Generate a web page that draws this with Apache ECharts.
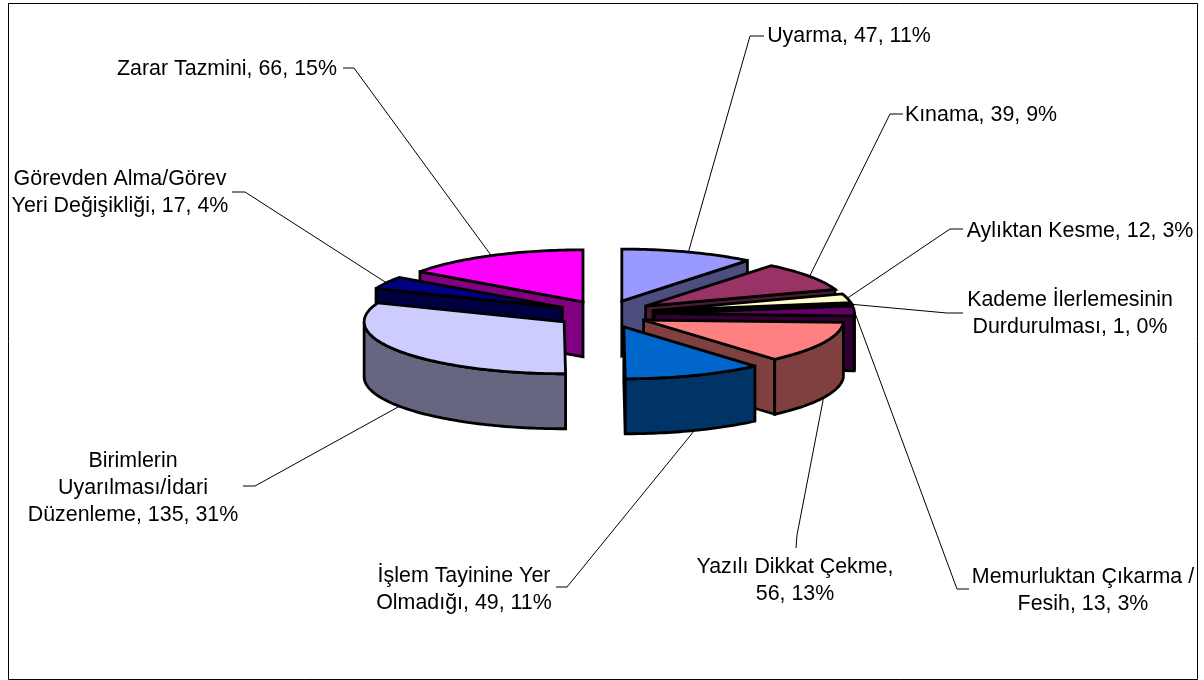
<!DOCTYPE html>
<html>
<head>
<meta charset="utf-8">
<style>html,body{margin:0;padding:0;background:#fff}#main{width:1204px;height:680px}</style>
<script src="https://cdn.jsdelivr.net/npm/echarts@6/dist/echarts.min.js"></script>
</head>
<body>
<div id="main"></div>
<script>
// 数据
var categories = ['Uyarma','Kınama','Aylıktan Kesme','Kademe İlerlemesinin Durdurulması','Memurluktan Çıkarma / Fesih','Yazılı Dikkat Çekme','İşlem Tayinine Yer Olmadığı','Birimlerin Uyarılması/İdari Düzenleme','Görevden Alma/Görev Yeri Değişikliği','Zarar Tazmini'];
var values = [47,39,12,1,13,56,49,135,17,66];
var percents = [11,9,3,0,3,13,11,31,4,15];
var labelLines = [
	['Uyarma, 47, 11%'],
	['Kınama, 39, 9%'],
	['Aylıktan Kesme, 12, 3%'],
	['Kademe İlerlemesinin','Durdurulması, 1, 0%'],
	['Memurluktan Çıkarma /','Fesih, 13, 3%'],
	['Yazılı Dikkat Çekme,','56, 13%'],
	['İşlem Tayinine Yer','Olmadığı, 49, 11%'],
	['Birimlerin','Uyarılması/İdari','Düzenleme, 135, 31%'],
	['Görevden Alma/Görev','Yeri Değişikliği, 17, 4%'],
	['Zarar Tazmini, 66, 15%']
];
var topColors = ['#9999FF','#993366','#FFFFCC','#CCFFFF','#660066','#FF8080','#0066CC','#CCCCFF','#000080','#FF00FF'];
var sideColors = ['#4D4D80','#4D1A33','#808066','#668080','#330033','#804040','#003366','#666680','#000040','#800080'];

// 布局
var PIE = {cx:605.5, cy:314, rx:200, ry:52, depth:55, explode:49, explodeY:13.7};
var sliceNudge = [0,0,0,0,0,-6,1,-1,0,0];  //!< 个别分片的水平微调
// 文字中心 [x,y], 引线折点 [x,y], 引线终点x
var labelPos = [
	{x:849, y:36, elbow:[750,36], end:764},
	{x:981, y:115, elbow:[890,114], end:903},
	{x:1080, y:231, elbow:[950,229], end:963},
	{x:1070, y:314, elbow:[947,313], end:963},
	{x:1083, y:591, elbow:[957,589], end:969},
	{x:795, y:581, elbow:[797,535], end:[796,548]},
	{x:464, y:590, elbow:[567,587], end:556},
	{x:133, y:488, elbow:[255,486], end:243},
	{x:120, y:193, elbow:[245,192], end:232},
	{x:227, y:69, elbow:[354,68], end:343}
];
var FONT = 'Liberation Sans, Arial, sans-serif';
var FONT_SIZE = 21.4;
var LINE_H = 27;

var total = 0;
for (var i=0;i<values.length;++i) total += values[i];

// 每个分片的角度(从正上方顺时针)和圆心
var slices = [];
var acc = 0;
for (var i=0;i<values.length;++i) {
	var a0 = acc/total*Math.PI*2;
	acc += values[i];
	var a1 = acc/total*Math.PI*2;
	var mid = (a0+a1)/2;
	slices.push({
		a0: a0, a1: a1, mid: mid,
		x: PIE.cx + PIE.explode*Math.sin(mid) + sliceNudge[i],
		y: PIE.cy - PIE.explodeY*Math.cos(mid)
	});
}

function rimPoint(s,t,dy) {
	return [s.x+PIE.rx*Math.sin(t), s.y-PIE.ry*Math.cos(t)+(dy||0)];
}
function arcPoints(s,from,to,dy) {
	var pts = [];
	var n = Math.max(2,Math.ceil(Math.abs(to-from)/0.02));
	for (var k=0;k<=n;++k) pts.push(rimPoint(s,from+(to-from)*k/n,dy));
	return pts;
}
function face(points,fill) {
	return {
		type: 'polygon',
		shape: {points: points},
		style: {fill: fill, stroke: '#000', lineWidth: 2.8, lineJoin: 'miter', miterLimit: 3}
	};
}
function cutFace(s,t,fill) {
	var p = rimPoint(s,t);
	return face([[s.x,s.y],p,[p[0],p[1]+PIE.depth],[s.x,s.y+PIE.depth]],fill);
}

// 画3D分片
function renderSlice(params,api) {
	var idx = api.value(0);
	var s = slices[idx];
	var children = [];
	// 切面
	if (Math.sin(s.a0)<0) children.push(cutFace(s,s.a0,sideColors[idx]));
	if (Math.sin(s.a1)>0) children.push(cutFace(s,s.a1,sideColors[idx]));
	// 外侧弧面, 只有前半部分可见
	var from = Math.max(s.a0,Math.PI/2);
	var to = Math.min(s.a1,Math.PI*1.5);
	if (to>from) {
		var upper = arcPoints(s,from,to,0);
		var lower = arcPoints(s,to,from,PIE.depth);
		children.push(face(upper.concat(lower),sideColors[idx]));
	}
	// 顶面
	children.push(face([[s.x,s.y]].concat(arcPoints(s,s.a0,s.a1,0)),topColors[idx]));
	return {type:'group', children:children};
}

// 画标签和引线
function renderLabel(params,api) {
	var idx = api.value(0);
	var s = slices[idx];
	var pos = labelPos[idx];
	var start = rimPoint(s,s.mid,Math.cos(s.mid)<0?PIE.depth:0);
	var pts = [start,pos.elbow];
	pts.push(pos.end.length ? pos.end : [pos.end,pos.elbow[1]]);
	return {type:'group', children:[
		{
			type: 'polyline',
			shape: {points: pts},
			style: {fill: 'none', stroke: '#000', lineWidth: 1}
		},
		{
			type: 'text',
			style: {
				x: pos.x, y: pos.y,
				text: labelLines[idx].join('\n'),
				fill: '#000',
				fontFamily: FONT, fontSize: FONT_SIZE,
				lineHeight: LINE_H,
				align: 'center', verticalAlign: 'middle'
			}
		}
	]};
}

// 从后往前画
var order = values.map(function(v,i){return i;}).sort(function(a,b){
	return Math.cos(slices[b].mid)-Math.cos(slices[a].mid);
});

var chart = echarts.init(document.getElementById('main'),null,{renderer:'canvas'});
chart.setOption({
	animation: false,
	backgroundColor: '#fff',
	graphic: [{
		type: 'rect',
		shape: {x:8.5, y:3.5, width:1189, height:676},
		style: {fill:'none', stroke:'#000', lineWidth:1},
		z: 0
	}],
	series: [
		{
			type: 'custom', coordinateSystem: 'none', silent: true, z: 2,
			renderItem: renderLabel,
			data: values.map(function(v,i){return [i,v,percents[i],categories[i]];})
		},
		{
			type: 'custom', coordinateSystem: 'none', silent: true, z: 3,
			renderItem: renderSlice,
			data: order.map(function(i){return [i,values[i],percents[i],categories[i]];})
		}
	]
});
</script>
</body>
</html>
